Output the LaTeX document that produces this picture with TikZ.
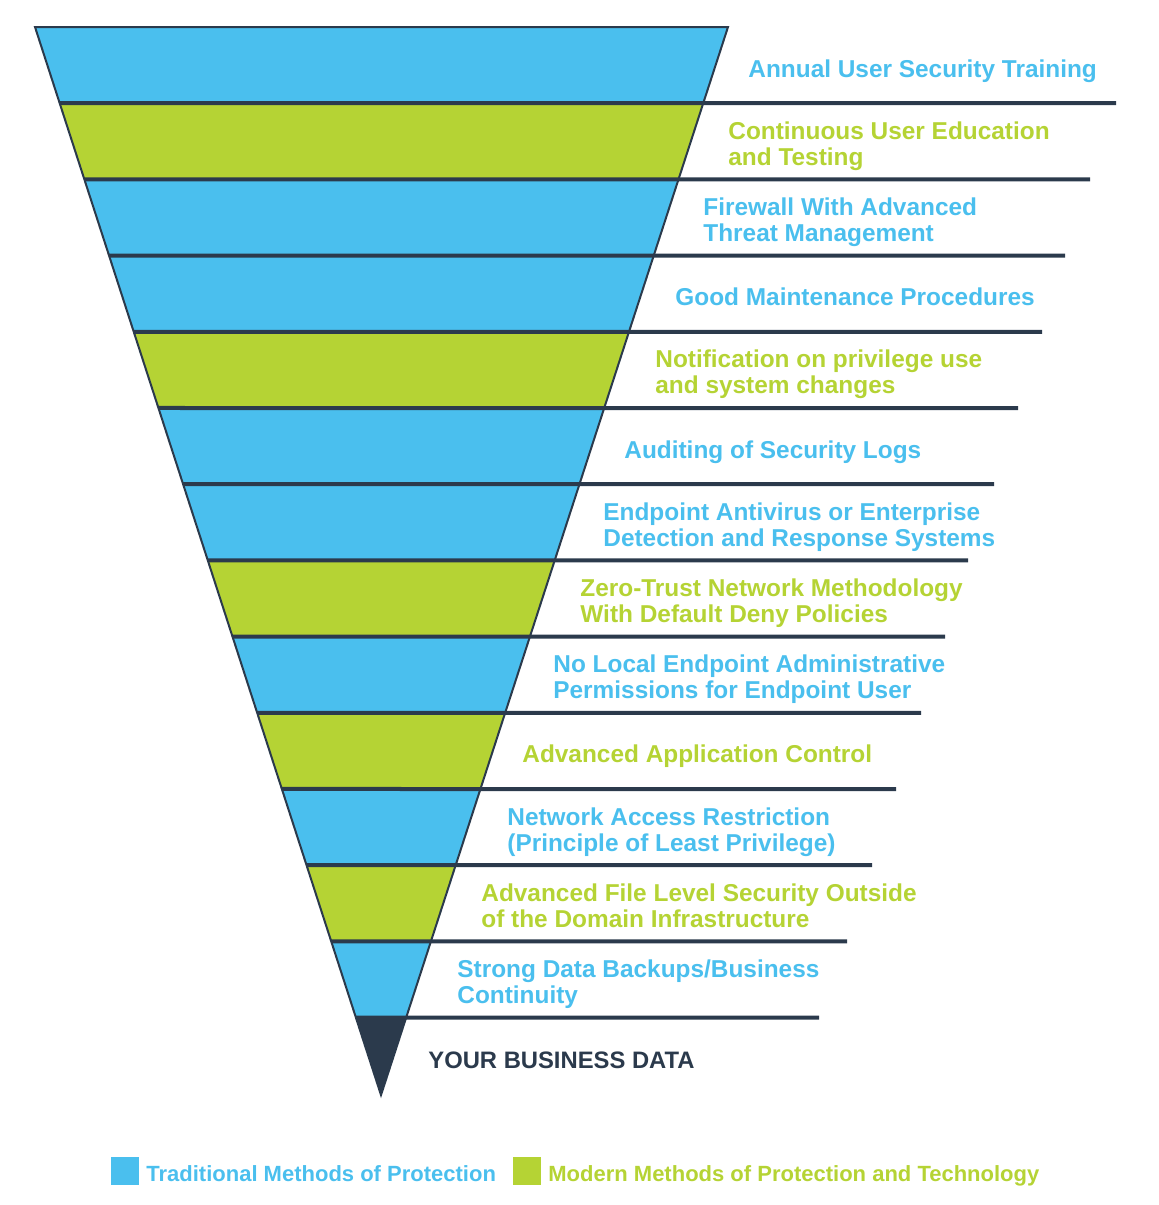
\documentclass[tikz,border=0pt]{standalone}
\usepackage{fontspec}
\setmainfont{Liberation Sans}
\usetikzlibrary{calc}
\definecolor{tradblue}{HTML}{4ABFEE}
\definecolor{modgreen}{HTML}{B5D334}
\definecolor{navy}{HTML}{2B3A4C}
\tikzset{
  sepline/.style={line width=2pt,draw=navy},
  layerlbl/.style={anchor=base west,inner sep=0pt,align=left,text=#1,
    font=\bfseries\fontsize{12.2}{13}\selectfont},
  keybox/.style={fill=#1,draw=none,minimum size=14pt,inner sep=0pt,anchor=north west},
}
\begin{document}
\begin{tikzpicture}[x=0.5pt,y=-0.5pt]
\useasboundingbox (0,0) rectangle (1158,1205);
% funnel corners
\coordinate (TL) at (35,27);
\coordinate (TR) at (728,27);
\coordinate (tip) at (381,1095);
% layers
\begin{scope}
  \clip (TL) -- (TR) -- (tip) -- cycle;
  \fill[navy] (0,0) rectangle (1158,1205);
  \foreach \i/\col in {0/tradblue,1/modgreen,2/tradblue,3/tradblue,4/modgreen,5/tradblue,6/tradblue,
                       7/modgreen,8/tradblue,9/modgreen,10/tradblue,11/modgreen,12/tradblue}
    \fill[\col] (0,{27+76.2*\i}) rectangle (1158,{27+76.2*(\i+1)});
\end{scope}
\draw[navy,line width=1pt] (TL) -- (TR) -- (tip) -- cycle;
% separators
\foreach \i/\xe in {1/1116,2/1090,3/1065,4/1042,5/1018,6/994,7/968,8/945,9/921,10/896,11/872,12/847,13/819} {
  \pgfmathsetmacro\yy{27+76.2*\i}
  \coordinate (L\i) at ($(TL)!{76.2*\i/1068}!(tip)$);
  \coordinate (R\i) at (\xe,\yy);
  \draw[sepline] (L\i) -- (R\i);
}
% labels (base = last line)
\foreach \i/\col/\xl/\dy/\txt in {
  0/tradblue/748/12/{Annual User Security Training},
  1/modgreen/728/24/{Continuous User Education\\and Testing},
  2/tradblue/703/24/{Firewall With Advanced\\Threat Management},
  3/tradblue/675/12/{Good Maintenance Procedures},
  4/modgreen/655/24/{Notification on privilege use\\and system changes},
  5/tradblue/624/12/{Auditing of Security Logs},
  6/tradblue/603/24/{Endpoint Antivirus or Enterprise\\Detection and Response Systems},
  7/modgreen/580/24/{Zero-Trust Network Methodology\\With Default Deny Policies},
  8/tradblue/553/24/{No Local Endpoint Administrative\\Permissions for Endpoint User},
  9/modgreen/522/12/{Advanced Application Control},
  10/tradblue/507/24/{Network Access Restriction\\(Principle of Least Privilege)},
  11/modgreen/481/24/{Advanced File Level Security Outside\\of the Domain Infrastructure},
  12/tradblue/457/24/{Strong Data Backups/Business\\Continuity}}
  \node[layerlbl=\col] (lbl\i) at (\xl,{27+76.2*\i+38.1+\dy}) {\txt};
\node[layerlbl=navy,font=\bfseries\fontsize{11.9}{13}\selectfont] (core) at (428,1068) {YOUR BUSINESS DATA};
% legend
\node[keybox=tradblue] (keytrad) at (111,1157) {};
\node[layerlbl=tradblue,font=\bfseries\fontsize{11}{13}\selectfont] (keytradtxt) at (146,1181) {Traditional Methods of Protection};
\node[keybox=modgreen] (keymod) at (513,1157) {};
\node[layerlbl=modgreen,font=\bfseries\fontsize{11}{13}\selectfont] (keymodtxt) at (548,1181) {Modern Methods of Protection and Technology};
\end{tikzpicture}
\end{document}
